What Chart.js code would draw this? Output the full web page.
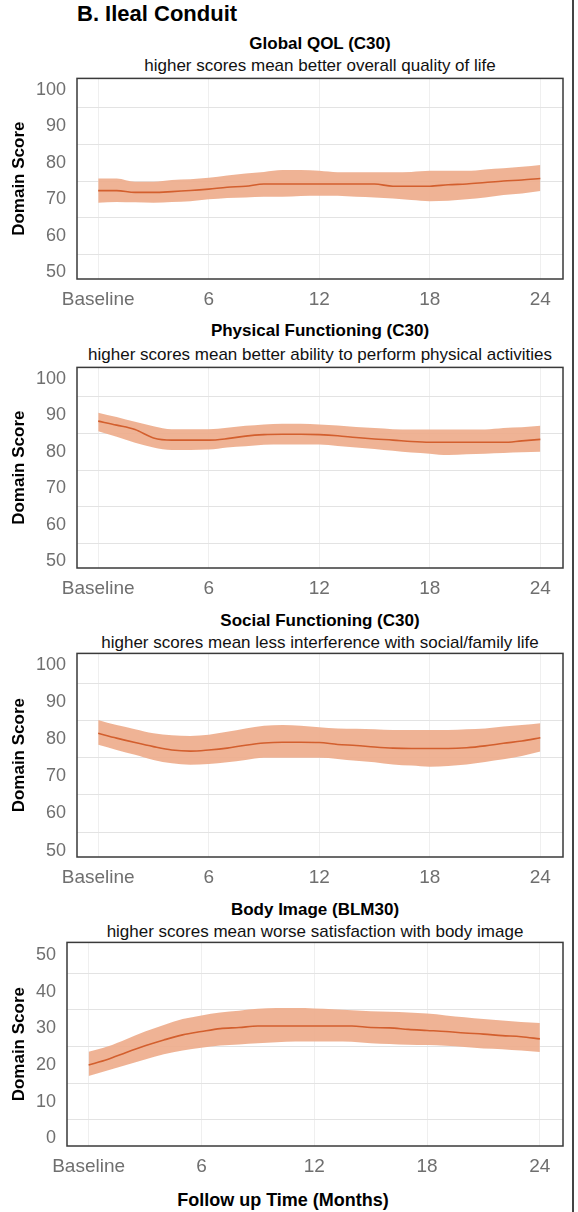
<!DOCTYPE html>
<html>
<head>
<meta charset="utf-8">
<script src="https://cdn.jsdelivr.net/npm/chart.js@4.4.1/dist/chart.umd.min.js"></script>
<style>
html,body{margin:0;padding:0;background:#fff;}
body{width:578px;height:1212px;position:relative;overflow:hidden;font-family:"Liberation Sans",Arial,sans-serif;}
.panel{position:absolute;left:0;width:578px;}
.panel canvas{display:block;}
.ttl{position:absolute;text-align:center;font-weight:bold;font-size:17px;line-height:20px;color:#000;white-space:nowrap;}
.sub{position:absolute;text-align:center;font-size:17px;line-height:20px;color:#111;white-space:nowrap;}
.w1{left:77px;width:486px;}
.w4{left:67px;width:496px;}
#heading{position:absolute;left:77px;top:1px;font-weight:bold;font-size:22px;line-height:26px;color:#000;white-space:nowrap;}
#xtitle{position:absolute;left:0;width:566px;top:1189px;text-align:center;font-weight:bold;font-size:18px;line-height:22px;color:#000;}
#rborder{position:absolute;left:572px;top:0;width:2px;height:1212px;background:#444;}
</style>
</head>
<body>
<div id="heading">B. Ileal Conduit</div>

<div class="ttl w1" style="top:34px;">Global QOL (C30)</div>
<div class="sub w1" style="top:56px;">higher scores mean better overall quality of life</div>
<div class="panel" style="top:31px;height:278px;"><canvas id="c1"></canvas></div>

<div class="ttl w1" style="top:321px;">Physical Functioning (C30)</div>
<div class="sub w1" style="top:345px;">higher scores mean better ability to perform physical activities</div>
<div class="panel" style="top:320px;height:278px;"><canvas id="c2"></canvas></div>

<div class="ttl w1" style="top:611px;">Social Functioning (C30)</div>
<div class="sub w1" style="top:633px;">higher scores mean less interference with social/family life</div>
<div class="panel" style="top:606px;height:281px;"><canvas id="c3"></canvas></div>

<div class="ttl w4" style="top:900px;">Body Image (BLM30)</div>
<div class="sub w4" style="top:922px;">higher scores mean worse satisfaction with body image</div>
<div class="panel" style="top:895px;height:281px;"><canvas id="c4"></canvas></div>

<div id="xtitle">Follow up Time (Months)</div>
<div id="rborder"></div>
<script>
// ---- data ----
const months = [0,1,2,3,4,5,6,7,8,9,10,11,12,13,14,15,16,17,18,19,20,21,22,23,24];
const xTickValues = [0, 6, 12, 18, 24];
const xTickLabels = ['Baseline', '6', '12', '18', '24'];
const yTicksC30 = [50, 60, 70, 80, 90, 100];
const yTicksBody = [0, 10, 20, 30, 40, 50];

const globalQolMean  = [72.4,72.4,71.9,71.9,72.1,72.4,72.8,73.3,73.6,74.2,74.2,74.2,74.2,74.2,74.2,74.2,73.6,73.6,73.6,74.0,74.2,74.6,75.0,75.3,75.7];
const globalQolUpper = [75.7,75.7,74.8,74.8,75.3,75.5,75.9,76.5,77.1,77.5,78.0,78.0,77.8,77.4,77.4,77.4,77.4,77.5,77.8,77.8,77.8,78.2,78.5,78.9,79.4];
const globalQolLower = [69.1,69.3,69.2,69.1,69.3,69.5,70.0,70.4,70.5,70.7,70.7,70.9,71.0,71.0,70.7,70.5,70.2,69.8,69.5,69.6,70.0,70.5,71.2,71.6,72.3];

const physicalMean  = [88.4,87.3,86.1,83.8,83.2,83.2,83.2,83.6,84.3,84.7,84.8,84.8,84.7,84.4,83.9,83.5,83.2,82.8,82.6,82.6,82.6,82.6,82.6,83.0,83.4];
const physicalUpper = [90.7,89.5,88.2,87.0,86.2,86.2,86.2,86.6,87.1,87.5,87.7,87.7,87.5,87.2,86.8,86.5,86.2,86.1,86.1,86.1,86.1,86.1,86.5,86.7,87.1];
const physicalLower = [85.6,84.1,82.5,81.2,80.5,80.5,80.6,81.2,81.5,81.9,82.0,82.0,82.0,81.6,81.2,80.8,80.3,79.8,79.5,79.1,79.3,79.5,79.7,79.9,80.0];

const socialMean  = [81.6,80.3,79.1,78.0,77.1,76.8,77.1,77.6,78.4,79.0,79.2,79.2,79.1,78.6,78.3,77.9,77.6,77.5,77.5,77.5,77.7,78.2,78.9,79.5,80.4];
const socialUpper = [85.2,83.8,82.7,81.6,81.1,80.9,81.2,82.0,82.9,83.6,83.8,83.6,83.2,82.9,82.8,82.7,82.5,82.5,82.5,82.5,82.7,82.9,83.4,83.8,84.3];
const socialLower = [78.5,77.1,75.8,74.4,73.5,73.1,73.3,73.8,74.4,75.0,75.0,75.0,75.0,74.7,74.2,73.8,73.2,72.9,72.6,72.8,73.2,73.9,74.6,75.5,76.7];

const bodyMean  = [20.0,21.5,23.4,25.2,26.8,28.2,29.1,29.9,30.2,30.6,30.6,30.6,30.6,30.6,30.6,30.2,30.1,29.7,29.4,29.1,28.7,28.4,28.0,27.7,27.1];
const bodyUpper = [23.6,25.0,27.0,29.1,30.9,32.5,33.5,34.3,34.8,35.3,35.5,35.5,35.4,35.2,34.9,34.6,34.5,34.3,34.0,33.5,33.0,32.5,32.1,31.7,31.4];
const bodyLower = [17.0,18.5,20.0,21.5,22.9,23.9,24.7,25.3,25.6,25.9,26.2,26.4,26.4,26.4,26.3,25.9,25.7,25.5,25.4,25.2,24.9,24.5,24.3,23.9,23.5];

// ---- styling ----
const FONT = '"Liberation Sans", Arial, sans-serif';
const LINE_COLOR = '#d35f2e';
const BAND_COLOR = 'rgba(238,172,140,0.92)';

const framePlugin = {
  id: 'frame',
  afterDraw(chart) {
    const {ctx, chartArea: a} = chart;
    ctx.save();
    ctx.strokeStyle = '#3a3a3a';
    ctx.lineWidth = 1.5;
    ctx.strokeRect(a.left, a.top, a.right - a.left, a.bottom - a.top);
    ctx.restore();
  }
};

function pts(values) {
  return months.map((m, i) => ({x: m, y: values[i]}));
}

function makePanel(canvasId, mean, lower, upper, yLabels, yMin, yMax, yWidth) {
  const gridVals = [];
  for (let v = yLabels[0]; v <= yLabels[yLabels.length - 1]; v += 5) gridVals.push(v);
  new Chart(document.getElementById(canvasId), {
    type: 'line',
    data: {
      datasets: [
        {data: pts(mean), borderColor: LINE_COLOR, borderWidth: 1.6, pointRadius: 0, fill: false, cubicInterpolationMode: 'monotone'},
        {data: pts(lower), borderWidth: 0, borderColor: 'rgba(0,0,0,0)', pointRadius: 0, fill: false, cubicInterpolationMode: 'monotone'},
        {data: pts(upper), borderWidth: 0, borderColor: 'rgba(0,0,0,0)', pointRadius: 0, fill: 1, backgroundColor: BAND_COLOR, cubicInterpolationMode: 'monotone'}
      ]
    },
    options: {
      responsive: true,
      maintainAspectRatio: false,
      animation: false,
      events: [],
      layout: {padding: {left: 0, right: 15, top: 47.4, bottom: 0}},
      plugins: {
        legend: {display: false},
        tooltip: {enabled: false},
        title: {display: false},
        subtitle: {display: false}
      },
      scales: {
        x: {
          type: 'linear', min: -1.15, max: 25.23,
          afterBuildTicks: s => { s.ticks = xTickValues.map(v => ({value: v})); },
          afterFit: s => { s.height = 30; },
          ticks: {padding: 9, color: '#6f6f6f', font: {family: FONT, size: 19}, maxRotation: 0, autoSkip: false,
                  callback: (v, i) => xTickLabels[i]},
          grid: {color: '#efefef', drawTicks: false, lineWidth: 1},
          border: {display: false}
        },
        y: {
          type: 'linear', min: yMin, max: yMax,
          afterBuildTicks: s => { s.ticks = gridVals.map(v => ({value: v})); },
          afterFit: s => { s.width = yWidth; },
          ticks: {padding: 11, color: '#6f6f6f', font: {family: FONT, size: 18}, autoSkip: false,
                  callback: v => (yLabels.includes(v) ? String(v) : '')},
          grid: {color: c => (c.tick && yLabels.includes(c.tick.value) ? 'rgba(0,0,0,0)' : '#e3e3e3'), drawTicks: false, lineWidth: 1},
          border: {display: false},
          title: {display: true, text: 'Domain Score', color: '#000', font: {family: FONT, size: 17, weight: 'bold'}, padding: {top: 9.3, bottom: 0}}
        }
      }
    },
    plugins: [framePlugin]
  });
}

makePanel('c1', globalQolMean, globalQolLower, globalQolUpper, yTicksC30, 48.2, 103.1, 77);
makePanel('c2', physicalMean, physicalLower, physicalUpper, yTicksC30, 48.2, 103.1, 77);
makePanel('c3', socialMean, socialLower, socialUpper, yTicksC30, 48.3, 103.1, 77);
makePanel('c4', bodyMean, bodyLower, bodyUpper, yTicksBody, -2.1, 53.4, 67);
</script>
</body>
</html>
